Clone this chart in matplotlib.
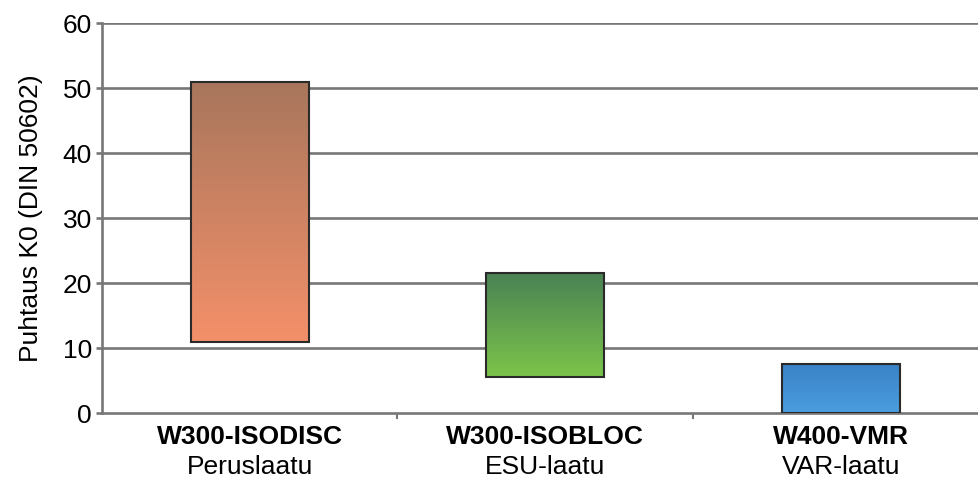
import matplotlib
matplotlib.use("Agg")
import matplotlib.pyplot as plt
import numpy as np
from matplotlib.colors import LinearSegmentedColormap
from matplotlib.patches import Rectangle
import matplotlib.transforms as mtransforms

plt.rcParams['font.family'] = ['Liberation Sans', 'DejaVu Sans']

names = ["W300-ISODISC", "W300-ISOBLOC", "W400-VMR"]
grades = ["Peruslaatu", "ESU-laatu", "VAR-laatu"]
lows = [11, 5.5, 0]
highs = [51, 21.5, 7.5]
top_colors = ["#a8765c", "#4a8254", "#3a82c6"]
bottom_colors = ["#f4906a", "#7cc44a", "#4a9ee0"]
yticks = [0, 10, 20, 30, 40, 50, 60]
ylabel = "Puhtaus K0 (DIN 50602)"

FS = 19

fig = plt.figure(figsize=(9.79, 4.82), dpi=100)
ax = fig.add_axes([0.104, 0.143, 0.906, 0.809])

for y in yticks[1:]:
    ax.axhline(y, color="#777777", lw=1.9, zorder=1)

width = 0.4
for i, (lo, hi) in enumerate(zip(lows, highs)):
    cmap = LinearSegmentedColormap.from_list("g", [bottom_colors[i], top_colors[i]])
    grad = np.linspace(0, 1, 256).reshape(-1, 1)
    ax.imshow(grad, extent=[i - width / 2, i + width / 2, lo, hi], origin="lower",
              cmap=cmap, aspect="auto", zorder=2, interpolation="bilinear")
    ax.add_patch(Rectangle((i - width / 2, lo), width, hi - lo, fill=False,
                           edgecolor="#2a2a2a", lw=1.5, zorder=3))

ax.set_xlim(-0.5, 2.5)
ax.set_ylim(0, 60)
ax.set_yticks(yticks)
ax.set_yticklabels([str(v) for v in yticks], fontsize=FS)
ax.tick_params(axis="y", length=4, width=1.9, color="#777777", pad=3)
ax.set_xticks([0.5, 1.5])
ax.set_xticklabels([])
ax.tick_params(axis="x", length=4, width=1.5, color="#777777")

for s in ["top", "right"]:
    ax.spines[s].set_visible(False)
ax.spines["left"].set_color("#777777")
ax.spines["left"].set_linewidth(1.9)
ax.spines["bottom"].set_color("#777777")
ax.spines["bottom"].set_linewidth(1.9)

ax.set_ylabel(ylabel, fontsize=FS, labelpad=14)

trans = mtransforms.blended_transform_factory(ax.transData, fig.transFigure)
for i in range(len(names)):
    ax.text(i, 1 - 437 / 482, names[i], transform=trans, ha="center", va="center",
            fontsize=FS, fontweight="bold", clip_on=False)
    ax.text(i, 1 - 467 / 482, grades[i], transform=trans, ha="center", va="center",
            fontsize=FS, clip_on=False)

fig.savefig("out.png", dpi=100)
